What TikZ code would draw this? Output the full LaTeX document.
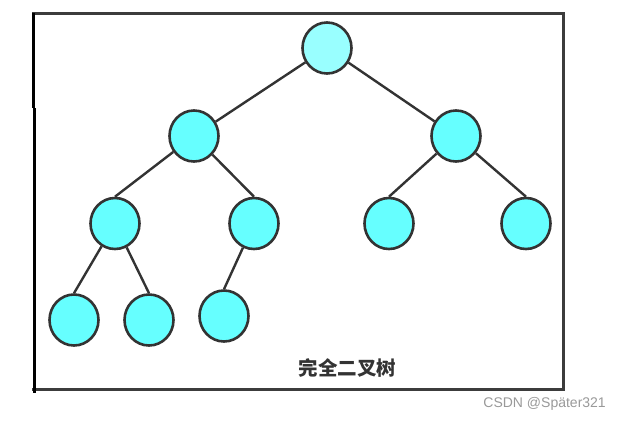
\documentclass[tikz,border=0pt]{standalone}
\usepackage{fontspec}
\setsansfont{Liberation Sans}
\newfontfamily\cjk{Noto Sans CJK SC}
\usetikzlibrary{shapes.geometric}
\definecolor{edgegray}{HTML}{333333}
\definecolor{framegray}{HTML}{3C3C3C}
\definecolor{cyannode}{HTML}{66FFFF}
\definecolor{cyanroot}{HTML}{99FFFF}
\definecolor{markgray}{HTML}{999999}
\tikzset{
  treenode/.style={ellipse, draw=edgegray, line width=2.6pt, fill=cyannode,
    minimum width=49pt, minimum height=51pt, inner sep=0pt},
  rootnode/.style={treenode, fill=cyanroot},
  treeedge/.style={draw=edgegray, line width=2.4pt},
  framestyle/.style={draw=framegray, line width=3pt},
  leftbar/.style={draw=black, line width=3pt}
}
\begin{document}
\begin{tikzpicture}[x=1pt,y=-1pt]
\useasboundingbox (0,0) rectangle (622,421);
% frame
\coordinate (tl) at (33.5,13);
\coordinate (tr) at (563.5,13);
\coordinate (br) at (563.5,389.5);
\coordinate (bl) at (33,389.5);
\coordinate (lm1) at (33.5,108);
\coordinate (lm2) at (34.5,108);
\coordinate (lb) at (34.5,393);
\draw[framestyle, line cap=rect] (tl) -- (tr) -- (br) -- (bl);
\draw[leftbar] (tl) -- (lm1);
\draw[leftbar] (lm2) -- (lb);
% nodes
\node[rootnode] (r) at (327,48) {};
\node[treenode] (a) at (194,136) {};
\node[treenode] (b) at (456,136) {};
\node[treenode] (a1) at (115,223.5) {};
\node[treenode] (a2) at (254,223.5) {};
\node[treenode] (b1) at (389,223.5) {};
\node[treenode] (b2) at (526,223.5) {};
\node[treenode] (c1) at (74,320) {};
\node[treenode] (c2) at (149,320) {};
\node[treenode] (c3) at (224,316) {};
% edges
\draw[treeedge] (r) -- (a);
\draw[treeedge] (r) -- (b);
\draw[treeedge] (a) -- (a1.north);
\draw[treeedge] (a) -- (a2.north);
\draw[treeedge] (b) -- (b1.north);
\draw[treeedge] (b) -- (b2.north);
\draw[treeedge] (a1) -- (c1.north);
\draw[treeedge] (a1) -- (c2.north);
\draw[treeedge] (a2) -- (c3.north);
% texts
\node[text=edgegray, inner sep=0pt, font=\cjk\bfseries\fontsize{19.5}{19.5}\selectfont] (title) at (347.5,368) {完全二叉树};
\node[text=markgray, inner sep=0pt, anchor=east, font=\sffamily\fontsize{14}{14}\selectfont] (mark) at (606,404) {CSDN @Später321};
\end{tikzpicture}
\end{document}
